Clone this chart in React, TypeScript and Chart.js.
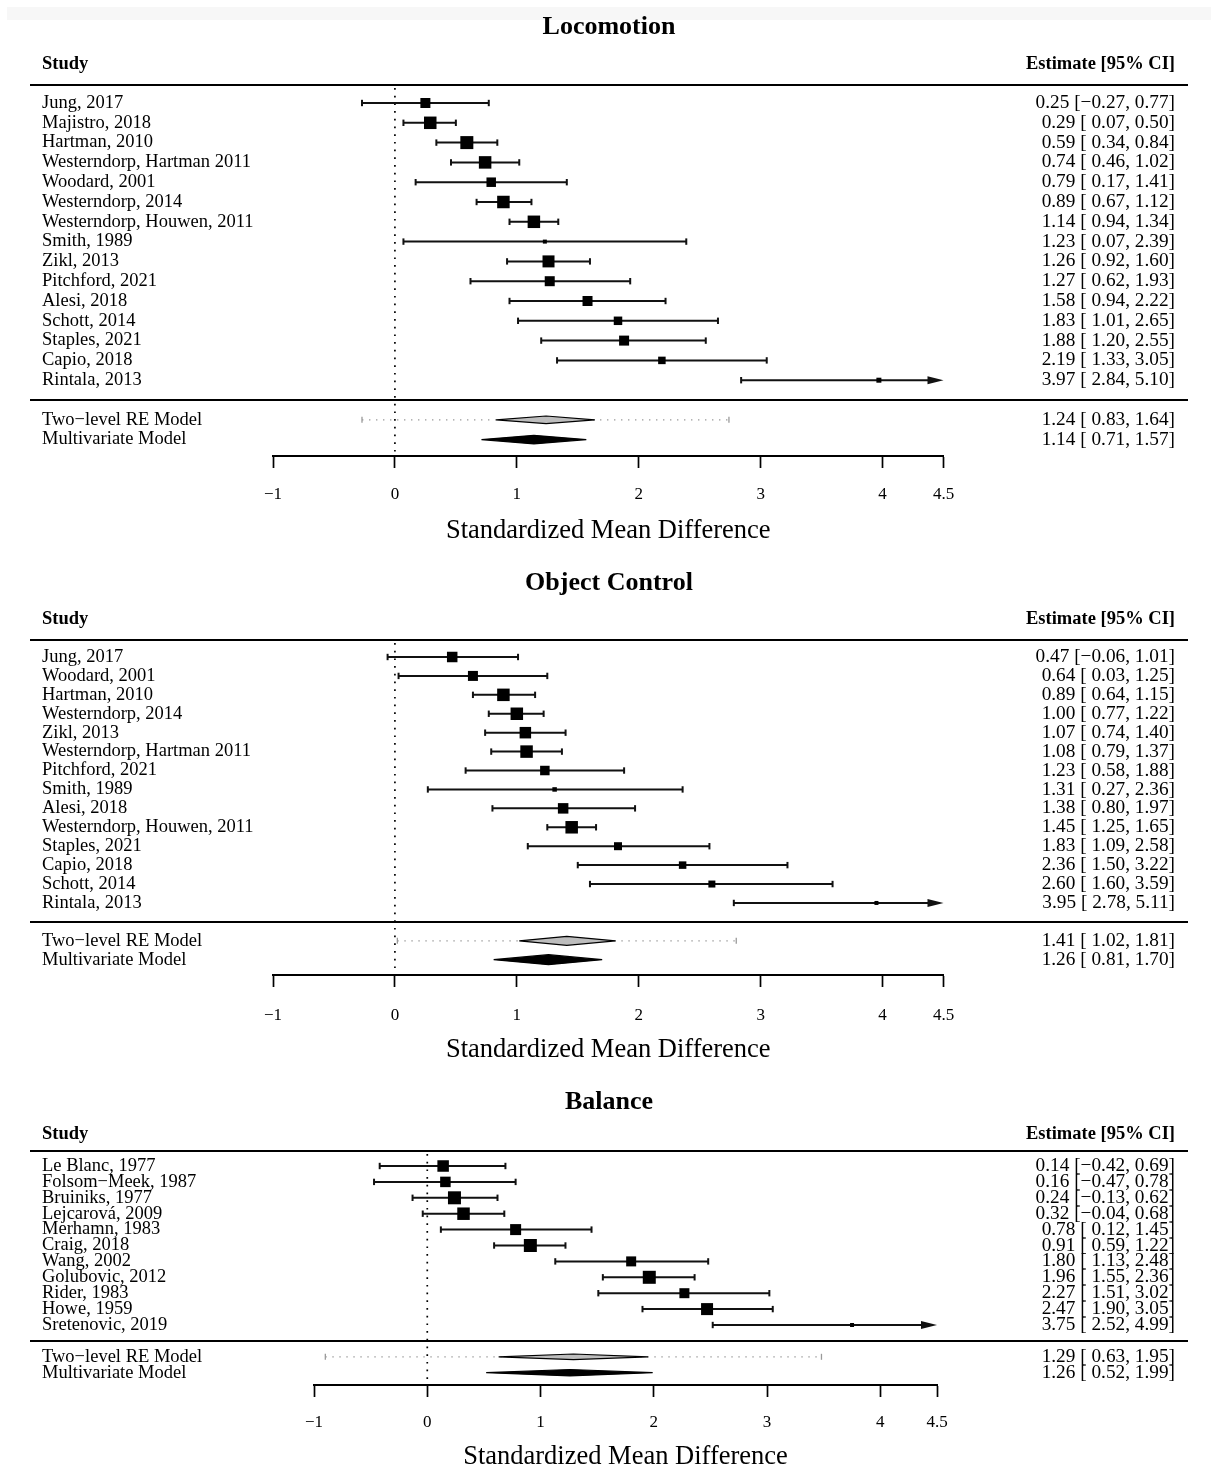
import React, { useEffect, useRef } from 'react';
import { Chart, registerables } from 'chart.js';

Chart.register(...registerables);

// ---------------- DATA ----------------
const xTicks = [-1, 0, 1, 2, 3, 4, 4.5];
const xTitle = 'Standardized Mean Difference';
const summaryLabels = ['Two\u2212level RE Model', 'Multivariate Model'];

// Locomotion
const locoStudies = [
  'Jung, 2017', 'Majistro, 2018', 'Hartman, 2010', 'Westerndorp, Hartman 2011', 'Woodard, 2001',
  'Westerndorp, 2014', 'Westerndorp, Houwen, 2011', 'Smith, 1989', 'Zikl, 2013', 'Pitchford, 2021',
  'Alesi, 2018', 'Schott, 2014', 'Staples, 2021', 'Capio, 2018', 'Rintala, 2013',
];
const locoEst = [0.25, 0.29, 0.59, 0.74, 0.79, 0.89, 1.14, 1.23, 1.26, 1.27, 1.58, 1.83, 1.88, 2.19, 3.97];
const locoLower = [-0.27, 0.07, 0.34, 0.46, 0.17, 0.67, 0.94, 0.07, 0.92, 0.62, 0.94, 1.01, 1.20, 1.33, 2.84];
const locoUpper = [0.77, 0.50, 0.84, 1.02, 1.41, 1.12, 1.34, 2.39, 1.60, 1.93, 2.22, 2.65, 2.55, 3.05, 5.10];
const locoWeights = [10, 12.5, 13, 12.5, 9.5, 12.5, 12.5, 4, 12, 10, 10, 8.5, 10, 7.5, 5];
const locoSumEst = [1.24, 1.14];
const locoSumLower = [0.83, 0.71];
const locoSumUpper = [1.64, 1.57];
const locoPred = [-0.27, 2.74];

// Object Control
const objStudies = [
  'Jung, 2017', 'Woodard, 2001', 'Hartman, 2010', 'Westerndorp, 2014', 'Zikl, 2013',
  'Westerndorp, Hartman 2011', 'Pitchford, 2021', 'Smith, 1989', 'Alesi, 2018',
  'Westerndorp, Houwen, 2011', 'Staples, 2021', 'Capio, 2018', 'Schott, 2014', 'Rintala, 2013',
];
const objEst = [0.47, 0.64, 0.89, 1.00, 1.07, 1.08, 1.23, 1.31, 1.38, 1.45, 1.83, 2.36, 2.60, 3.95];
const objLower = [-0.06, 0.03, 0.64, 0.77, 0.74, 0.79, 0.58, 0.27, 0.80, 1.25, 1.09, 1.50, 1.60, 2.78];
const objUpper = [1.01, 1.25, 1.15, 1.22, 1.40, 1.37, 1.88, 2.36, 1.97, 1.65, 2.58, 3.22, 3.59, 5.11];
const objWeights = [10.5, 10, 12.5, 12.5, 11.5, 12.5, 9.5, 4.5, 10.5, 12.5, 8, 7.5, 7, 4];
const objSumEst = [1.41, 1.26];
const objSumLower = [1.02, 0.81];
const objSumUpper = [1.81, 1.70];
const objPred = [0.02, 2.80];

// Balance
const balStudies = [
  'Le Blanc, 1977', 'Folsom\u2212Meek, 1987', 'Bruiniks, 1977', 'Lejcarová, 2009', 'Merhamn, 1983',
  'Craig, 2018', 'Wang, 2002', 'Golubovic, 2012', 'Rider, 1983', 'Howe, 1959', 'Sretenovic, 2019',
];
const balEst = [0.14, 0.16, 0.24, 0.32, 0.78, 0.91, 1.80, 1.96, 2.27, 2.47, 3.75];
const balLower = [-0.42, -0.47, -0.13, -0.04, 0.12, 0.59, 1.13, 1.55, 1.51, 1.90, 2.52];
const balUpper = [0.69, 0.78, 0.62, 0.68, 1.45, 1.22, 2.48, 2.36, 3.02, 3.05, 4.99];
const balWeights = [11.5, 10.5, 13, 12.5, 11, 13, 10, 13, 10, 12, 4];
const balSumEst = [1.29, 1.26];
const balSumLower = [0.63, 0.52];
const balSumUpper = [1.95, 1.99];
const balPred = [-0.90, 3.48];

// ---------------- LAYOUT ----------------
const FONT = "'Liberation Serif', 'Times New Roman', 'DejaVu Serif', serif";
const W = 1211;

type Panel = {
  title: string;
  studies: string[]; est: number[]; lower: number[]; upper: number[]; weights: number[];
  sumEst: number[]; sumLower: number[]; sumUpper: number[]; pred: number[];
  top: number; height: number; areaTop: number; areaBottom: number; areaLeft: number; areaRight: number;
  rowStep: number; firstRow: number; titleY: number; headerY: number;
  tickPad: number; titlePad: number; diamondH: number[]; band?: boolean;
};

const panels: Panel[] = [
  {
    title: 'Locomotion', studies: locoStudies, est: locoEst, lower: locoLower, upper: locoUpper, weights: locoWeights,
    sumEst: locoSumEst, sumLower: locoSumLower, sumUpper: locoSumUpper, pred: locoPred,
    top: 0, height: 560, areaTop: 85, areaBottom: 456, areaLeft: 273, areaRight: 943.5,
    rowStep: 19.8, firstRow: 18, titleY: 27, headerY: 64, tickPad: 16.4, titlePad: 16, diamondH: [3.8, 4.3], band: true,
  },
  {
    title: 'Object Control', studies: objStudies, est: objEst, lower: objLower, upper: objUpper, weights: objWeights,
    sumEst: objSumEst, sumLower: objSumLower, sumUpper: objSumUpper, pred: objPred,
    top: 560, height: 510, areaTop: 80, areaBottom: 415, areaLeft: 273, areaRight: 943.5,
    rowStep: 18.92, firstRow: 17, titleY: 23, headerY: 59, tickPad: 18.4, titlePad: 7, diamondH: [4.5, 5],
  },
  {
    title: 'Balance', studies: balStudies, est: balEst, lower: balLower, upper: balUpper, weights: balWeights,
    sumEst: balSumEst, sumLower: balSumLower, sumUpper: balSumUpper, pred: balPred,
    top: 1070, height: 400, areaTop: 81, areaBottom: 315, areaLeft: 314, areaRight: 937,
    rowStep: 15.9, firstRow: 15, titleY: 32, headerY: 64, tickPad: 15.4, titlePad: 0, diamondH: [2.8, 3.2],
  },
];

const fmt = (v: number) => (v < 0 ? '\u2212' : '') + Math.abs(v).toFixed(2);
const ciText = (e: number, l: number, u: number) =>
  `${fmt(e)} [${l < 0 ? '' : ' '}${fmt(l)}, ${fmt(u)}]`;
const tickText = (v: number) => (v < 0 ? '\u2212' : '') + String(Math.abs(v));

function makePlugin(p: Panel) {
  return {
    id: 'forest',
    beforeDraw(chart: any) {
      const ctx = chart.ctx;
      ctx.save();
      ctx.fillStyle = '#ffffff';
      ctx.fillRect(0, 0, chart.width, chart.height);
      if (p.band) {
        ctx.fillStyle = '#f7f7f7';
        ctx.fillRect(7, 7, chart.width - 7, 13);
      }
      ctx.restore();
    },
    beforeDatasetsDraw(chart: any) {
      const ctx = chart.ctx;
      const xs = chart.scales.x;
      const ys = chart.scales.y;
      const area = chart.chartArea;
      const X = (v: number) => xs.getPixelForValue(v);
      const Y = (v: number) => ys.getPixelForValue(v);
      const n = p.studies.length;
      ctx.save();
      // horizontal separators
      ctx.strokeStyle = '#000';
      ctx.lineWidth = 2;
      ctx.setLineDash([]);
      [area.top, Y(n)].forEach((y: number) => {
        ctx.beginPath();
        ctx.moveTo(30, y);
        ctx.lineTo(1188, y);
        ctx.stroke();
      });
      // reference line at 0
      ctx.lineWidth = 1.7;
      ctx.setLineDash([1.7, 6]);
      ctx.beginPath();
      ctx.moveTo(X(0), area.top + 3);
      ctx.lineTo(X(0), area.bottom);
      ctx.stroke();
      ctx.setLineDash([]);
      // confidence intervals
      ctx.strokeStyle = '#111';
      ctx.fillStyle = '#111';
      ctx.lineWidth = 2;
      for (let i = 0; i < n; i++) {
        const y = Y(i);
        const lo = Math.max(p.lower[i], xs.min);
        const hiClipped = p.upper[i] > xs.max;
        const hi = Math.min(p.upper[i], xs.max);
        const x1 = X(lo);
        const x2 = X(hi);
        ctx.beginPath();
        ctx.moveTo(x1, y);
        ctx.lineTo(hiClipped ? x2 - 10 : x2, y);
        ctx.stroke();
        ctx.beginPath();
        ctx.moveTo(x1, y - 3.2);
        ctx.lineTo(x1, y + 3.2);
        ctx.stroke();
        if (!hiClipped) {
          ctx.beginPath();
          ctx.moveTo(x2, y - 3.2);
          ctx.lineTo(x2, y + 3.2);
          ctx.stroke();
        } else {
          ctx.beginPath();
          ctx.moveTo(x2, y);
          ctx.lineTo(x2 - 16, y - 4);
          ctx.lineTo(x2 - 16, y + 4);
          ctx.closePath();
          ctx.fill();
        }
      }
      // prediction interval (dotted grey)
      const yRE = Y(n + 1);
      ctx.strokeStyle = '#9a9a9a';
      ctx.lineWidth = 1.3;
      ctx.setLineDash([1.4, 5.6]);
      ctx.beginPath();
      ctx.moveTo(X(p.pred[0]), yRE);
      ctx.lineTo(X(p.pred[1]), yRE);
      ctx.stroke();
      ctx.setLineDash([]);
      [p.pred[0], p.pred[1]].forEach((v) => {
        ctx.beginPath();
        ctx.moveTo(X(v), yRE - 3);
        ctx.lineTo(X(v), yRE + 3);
        ctx.stroke();
      });
      // summary diamonds
      const fills = ['#bdbdbd', '#000000'];
      for (let k = 0; k < 2; k++) {
        const y = Y(n + 1 + k);
        const h = p.diamondH[k];
        ctx.beginPath();
        ctx.moveTo(X(p.sumLower[k]), y);
        ctx.lineTo(X(p.sumEst[k]), y - h);
        ctx.lineTo(X(p.sumUpper[k]), y);
        ctx.lineTo(X(p.sumEst[k]), y + h);
        ctx.closePath();
        ctx.fillStyle = fills[k];
        ctx.fill();
        ctx.strokeStyle = '#000';
        ctx.lineWidth = 1.2;
        ctx.stroke();
      }
      ctx.restore();
    },
    afterDraw(chart: any) {
      const ctx = chart.ctx;
      const ys = chart.scales.y;
      const Y = (v: number) => ys.getPixelForValue(v);
      const n = p.studies.length;
      ctx.save();
      ctx.fillStyle = '#000';
      ctx.textBaseline = 'middle';
      // panel title
      ctx.font = `bold 26px ${FONT}`;
      ctx.textAlign = 'center';
      ctx.fillText(p.title, 609, p.titleY);
      // headers
      ctx.font = `bold 18.5px ${FONT}`;
      ctx.textAlign = 'left';
      ctx.fillText('Study', 42, p.headerY);
      ctx.textAlign = 'right';
      ctx.fillText('Estimate [95% CI]', 1175, p.headerY);
      // rows
      const labelFont = `18.5px ${FONT}`;
      const estFont = `19.3px ${FONT}`;
      for (let i = 0; i < n; i++) {
        const y = Y(i);
        ctx.font = labelFont;
        ctx.textAlign = 'left';
        ctx.fillText(p.studies[i], 42, y);
        ctx.font = estFont;
        ctx.textAlign = 'right';
        ctx.fillText(ciText(p.est[i], p.lower[i], p.upper[i]), 1175, y);
      }
      for (let k = 0; k < 2; k++) {
        const y = Y(n + 1 + k);
        ctx.font = labelFont;
        ctx.textAlign = 'left';
        ctx.fillText(summaryLabels[k], 42, y);
        ctx.font = estFont;
        ctx.textAlign = 'right';
        ctx.fillText(ciText(p.sumEst[k], p.sumLower[k], p.sumUpper[k]), 1175, y);
      }
      ctx.restore();
    },
  };
}

function ForestPanel({ p }: { p: Panel }) {
  const ref = useRef<HTMLCanvasElement | null>(null);
  useEffect(() => {
    if (!ref.current) return;
    const areaH = p.areaBottom - p.areaTop;
    const yMin = -p.firstRow / p.rowStep;
    const yMax = yMin + areaH / p.rowStep;
    const chart = new Chart(ref.current, {
      type: 'scatter',
      data: {
        datasets: [
          {
            data: p.est.map((e, i) => ({ x: e, y: i })),
            pointStyle: 'rect',
            pointRadius: p.weights.map((w) => w * Math.SQRT1_2),
            pointBackgroundColor: '#000',
            pointBorderWidth: 0,
            pointBorderColor: '#000',
            showLine: false,
            clip: false,
          } as any,
        ],
      },
      options: {
        animation: false,
        responsive: false,
        devicePixelRatio: 1,
        events: [],
        layout: {
          padding: { top: p.areaTop, left: p.areaLeft, right: W - p.areaRight, bottom: 0 },
        },
        plugins: {
          legend: { display: false },
          tooltip: { enabled: false },
          title: { display: false },
        },
        scales: {
          x: {
            type: 'linear',
            position: 'bottom',
            min: -1,
            max: 4.5,
            afterBuildTicks: (s: any) => {
              s.ticks = xTicks.map((v) => ({ value: v }));
            },
            afterFit: (s: any) => {
              s.height = p.height - p.areaBottom;
            },
            grid: {
              display: true,
              drawOnChartArea: false,
              drawTicks: true,
              tickLength: 12,
              tickWidth: 1.7,
              tickColor: '#000',
            },
            border: { display: true, color: '#000', width: 2 },
            ticks: {
              autoSkip: false,
              maxRotation: 0,
              minRotation: 0,
              padding: p.tickPad,
              color: '#000',
              font: { family: FONT, size: 17 },
              callback: (v: any) => tickText(Number(v)),
            },
            title: {
              display: true,
              text: xTitle,
              color: '#000',
              font: { family: FONT, size: 26.5, lineHeight: 1 },
              padding: { top: 0, bottom: p.titlePad },
            },
          },
          y: {
            type: 'linear',
            display: false,
            reverse: true,
            min: yMin,
            max: yMax,
          },
        },
      } as any,
      plugins: [makePlugin(p)],
    });
    return () => chart.destroy();
  }, [p]);
  return (
    <canvas
      ref={ref}
      width={W}
      height={p.height}
      style={{ position: 'absolute', left: 0, top: p.top, width: W, height: p.height, display: 'block' }}
    />
  );
}

export default function App() {
  useEffect(() => {
    document.body.style.margin = '0';
    document.body.style.background = '#fff';
  }, []);
  return (
    <div style={{ position: 'relative', width: W, height: 1470, overflow: 'hidden', background: '#fff' }}>
      {panels.map((p) => (
        <ForestPanel key={p.title} p={p} />
      ))}
    </div>
  );
}
